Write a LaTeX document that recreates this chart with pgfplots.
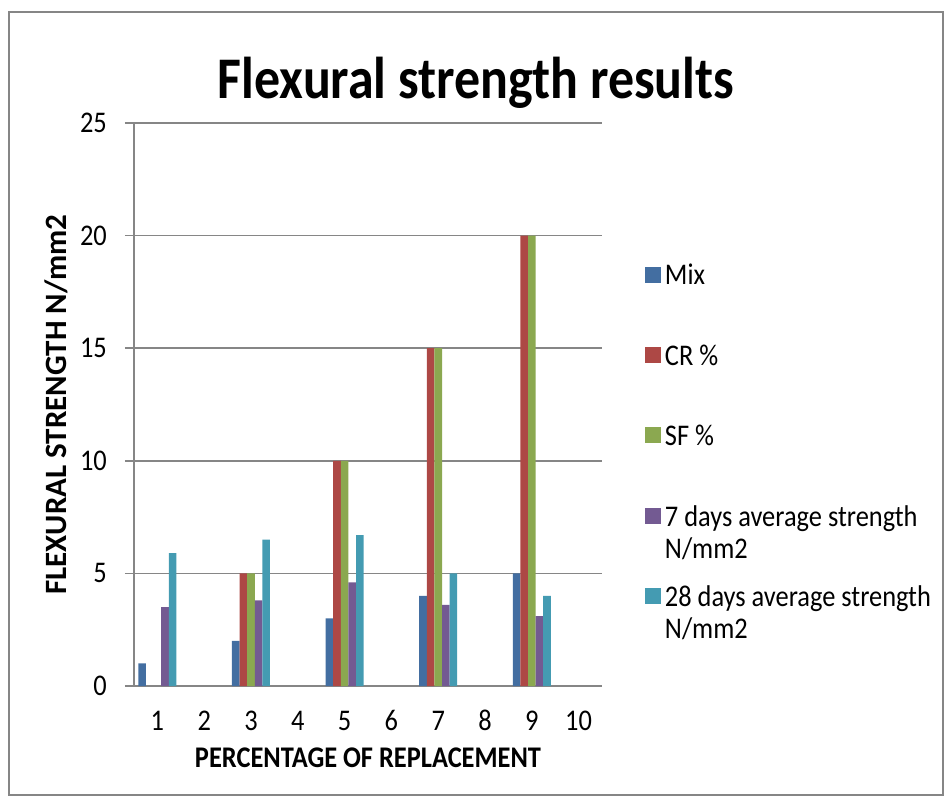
\documentclass[border=0pt]{standalone}
\usepackage{amsmath}
\usepackage{fontspec}
\setmainfont{Carlito}[FakeStretch=0.88]
\newfontfamily\ylabfont{Carlito}
\usepackage{pgfplots}
\pgfplotsset{compat=1.18}

\definecolor{gridgray}{HTML}{868686}
\definecolor{mixc}{HTML}{4F81BD}
\definecolor{crc}{HTML}{C0504D}
\definecolor{sfc}{HTML}{9BBB59}
\definecolor{sevc}{HTML}{8064A2}
\definecolor{twec}{HTML}{4BACC6}

\newcommand{\lentry}[1]{\hspace*{-5bp}\smash[b]{\begin{tabular}[t]{@{}l@{}}#1\end{tabular}}}

\begin{document}
\begin{tikzpicture}
\useasboundingbox (-134bp,-118bp) rectangle (818bp,686bp);
\draw[gridgray, line width=1.5bp] (-125bp,-109bp) rectangle (809bp,674bp);
\begin{axis}[
    at={(0,0)}, anchor=south west,
    width=468bp, height=563bp, scale only axis,
    ybar=0pt, bar width=7.6bp,
    xmin=0.5, xmax=10.5, ymin=0, ymax=25,
    enlargelimits=false,
    xtick={1,...,10}, ytick={0,5,...,25},
    axis x line*=bottom, axis y line*=left,
    x axis line style={draw=none},
    y axis line style={draw=gridgray, line width=1.5bp, -},
    xtick style={draw=none},
    ytick style={draw=gridgray, line width=1.5bp, xshift=-9bp},
    tick align=inside, major tick length=9bp,
    ymajorgrids, grid style={gridgray, line width=1.5bp},
    tick label style={font=\fontsize{30bp}{34bp}\selectfont},
    xticklabel style={anchor=base, yshift=-44bp},
    yticklabel style={anchor=east, inner sep=0pt, xshift=-27bp},
    /pgf/number format/assume math mode=true,
    xlabel={\bfseries PERCENTAGE OF REPLACEMENT},
    ylabel={\ylabfont\bfseries FLEXURAL STRENGTH N/mm2},
    xlabel style={font=\fontsize{30bp}{34bp}\selectfont, at={(axis description cs:0.5,-0.128)}, anchor=center},
    ylabel style={font=\fontsize{31bp}{34bp}\selectfont, at={(axis description cs:-0.167,0.5)}, anchor=center},
    legend style={at={(1.085,0.772)}, anchor=north west, draw=none, fill=none,
        font=\fontsize{30bp}{32bp}\selectfont, row sep=38.5bp,
        nodes={inner sep=9bp}, cells={anchor=west}},
    legend image code/.code={\fill[#1] (0bp,-8bp) rectangle (16bp,8bp);},
]
\addplot[draw=none, fill=mixc!85!black] coordinates {(1,1) (3,2) (5,3) (7,4) (9,5)};
\addplot[draw=none, fill=crc!90!black] coordinates {(3,5) (5,10) (7,15) (9,20)};
\addplot[draw=none, fill=sfc!90!black] coordinates {(3,5) (5,10) (7,15) (9,20)};
\addplot[draw=none, fill=sevc!90!black] coordinates {(1,3.5) (3,3.8) (5,4.6) (7,3.6) (9,3.1)};
\addplot[draw=none, fill=twec!90!black] coordinates {(1,5.9) (3,6.5) (5,6.7) (7,5.0) (9,4.0)};
\legend{\lentry{Mix}, \lentry{CR \%}, \lentry{SF \%}, \lentry{7 days average strength\\N/mm2}, \lentry{28 days average strength\\N/mm2}}
\end{axis}
\node[font=\fontsize{59bp}{64bp}\selectfont\bfseries] at (342bp,603bp) {Flexural strength results};
\end{tikzpicture}
\end{document}
